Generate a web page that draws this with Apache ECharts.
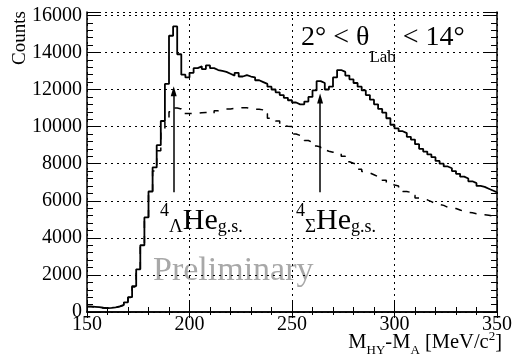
<!DOCTYPE html>
<html>
<head>
<meta charset="utf-8">
<script src="https://cdn.jsdelivr.net/npm/echarts@6/dist/echarts.min.js"></script>
<style>html,body{margin:0;padding:0;background:#fff;}#c{width:515px;height:356px;}</style>
</head>
<body>
<div id="c"></div>
<script>
// ---- data ----
const binStart = 150;
const binWidth = 2;
const solidCounts = [
  300,280,260,230,210,220,250,300,380,520,
  800,1400,2300,3600,5100,6500,7800,9000,10300,12300,
  14900,15400,13900,12800,12650,12900,13150,13250,13100,13300,
  13150,13050,13000,12950,12850,12750,12900,12700,12780,12700,
  12650,12500,12400,12300,12150,12000,11850,11700,11550,11420,
  11300,11200,11200,11350,11600,11950,12450,12350,12000,12150,
  12650,13050,12950,12750,12550,12350,12150,11950,11700,11450,
  11200,10950,10750,10450,10100,9900,9750,9650,9450,9300,
  9050,8800,8650,8500,8350,8150,8000,7850,7750,7600,
  7450,7300,7200,7050,6950,6800,6750,6650,6550,6450
];
const dashedCounts = [
  280,260,240,220,200,210,240,290,370,500,
  780,1350,2200,3500,4900,6300,7600,8700,9700,10300,
  10800,11000,10950,10700,10700,10700,10720,10750,10760,10760,
  10700,10850,10930,10950,10950,10980,11000,11020,11020,10950,
  10940,10935,10900,10700,10450,10430,10300,10050,10020,10000,
  9600,9520,9450,9250,9150,8950,8900,8750,8670,8620,
  8580,8550,8400,8100,8020,7950,7700,7580,7500,7400,
  7300,7280,7100,6950,6850,6800,6650,6500,6450,6300,
  6150,6080,6050,5950,5850,5800,5750,5650,5620,5580,
  5500,5420,5380,5350,5300,5280,5250,5220,5180,5130
];
const xTicks = [150, 200, 250, 300, 350];
const yTicks = [0, 2000, 4000, 6000, 8000, 10000, 12000, 14000, 16000];
const arrowX = [192.3, 263.7];
const arrowFrom = [6460, 6460];
const arrowTo = [11900, 11510];

// ---- helpers ----
function toSteps(vals) {
  const pts = vals.map((v, i) => [binStart + i * binWidth, v]);
  pts.push([binStart + vals.length * binWidth, vals[vals.length - 1]]);
  return pts;
}
const FONT = 'Liberation Serif';
const cv = document.createElement('canvas').getContext('2d');
function measure(t, s) { cv.font = s + 'px "' + FONT + '"'; return cv.measureText(t).width; }
function run(segs, x, align) {
  const total = segs.reduce((a, s) => a + measure(s[0], s[1]), 0);
  let cx = align === 'right' ? x - total : x;
  return segs.map(s => {
    const el = {
      type: 'text', x: cx, y: s[2] - 0.34 * s[1], silent: true,
      style: { text: s[0], fontSize: s[1], fontFamily: FONT, fill: s[3] || '#000',
               align: 'left', verticalAlign: 'middle' }
    };
    cx += measure(s[0], s[1]);
    return el;
  });
}

const chart = echarts.init(document.getElementById('c'), null, { renderer: 'canvas' });
const axisLineStyle = { show: true, lineStyle: { color: '#000', width: 1.5 } };
const gridStyle = { show: true, lineStyle: { color: '#000', width: 1, type: [2, 4] } };
const labelStyle = { color: '#000', fontSize: 20, fontFamily: FONT, formatter: v => String(v) };

const graphics = [].concat(
  run([['2° < θ', 28, 47], ['Lab', 17, 63], [' < 14°', 28, 47]], 301),
  run([['4', 18, 217], ['Λ', 19, 233], ['He', 30, 231], ['g.s.', 18, 233]], 160),
  run([['4', 18, 217], ['Σ', 19, 233], ['He', 30, 231], ['g.s.', 18, 233]], 296),
  run([['Preliminary', 34, 283, '#a8a8a8']], 153),
  run([['M', 20.5, 350], ['HY', 13, 355], ['-M', 20.5, 350], ['A', 13, 355], [' [MeV/c', 20.5, 350], ['2', 13, 341], [']', 20.5, 350]], 502, 'right'),
  [{
    type: 'text', x: 20, y: 38, rotation: Math.PI / 2, silent: true,
    style: { text: 'Counts', fontSize: 19, fontFamily: FONT, fill: '#000', align: 'center', verticalAlign: 'middle' }
  }]
);

const option = {
  animation: false,
  backgroundColor: '#fff',
  textStyle: { fontFamily: FONT },
  grid: { left: 87, right: 13, top: 12, bottom: 44 },
  xAxis: [
    {
      type: 'value', position: 'bottom', min: xTicks[0], max: xTicks[xTicks.length - 1], interval: 50,
      axisLine: axisLineStyle,
      axisTick: { show: true, inside: true, length: 10, lineStyle: { color: '#000', width: 1 } },
      minorTick: { show: true, splitNumber: 5, length: 5, lineStyle: { color: '#000', width: 1 } },
      splitLine: gridStyle,
      axisLabel: Object.assign({ margin: 3 }, labelStyle)
    },
    {
      type: 'value', position: 'top', min: xTicks[0], max: xTicks[xTicks.length - 1], interval: 50,
      axisLine: axisLineStyle,
      axisTick: { show: true, inside: true, length: 6, lineStyle: { color: '#000', width: 1 } },
      minorTick: { show: true, splitNumber: 5, length: 3, lineStyle: { color: '#000', width: 1 } },
      splitLine: { show: false },
      axisLabel: { show: false }
    }
  ],
  yAxis: [
    {
      type: 'value', position: 'left', min: yTicks[0], max: 16180, interval: 2000,
      axisLine: axisLineStyle,
      axisTick: { show: true, inside: true, length: 12, lineStyle: { color: '#000', width: 1 } },
      minorTick: { show: true, splitNumber: 5, length: 6, lineStyle: { color: '#000', width: 1 } },
      splitLine: gridStyle,
      axisLabel: Object.assign({ margin: 5, showMaxLabel: false }, labelStyle)
    },
    {
      type: 'value', position: 'right', min: yTicks[0], max: 16180, interval: 2000,
      axisLine: axisLineStyle,
      axisTick: { show: true, inside: true, length: 12, lineStyle: { color: '#000', width: 1 } },
      minorTick: { show: true, splitNumber: 5, length: 6, lineStyle: { color: '#000', width: 1 } },
      splitLine: { show: false },
      axisLabel: { show: false }
    }
  ],
  series: [
    {
      type: 'line', step: 'end', showSymbol: false, symbol: 'none',
      data: toSteps(dashedCounts),
      lineStyle: { color: '#000', width: 1.5, type: [7, 8] },
      z: 2
    },
    {
      type: 'line', step: 'end', showSymbol: false, symbol: 'none',
      data: toSteps(solidCounts),
      lineStyle: { color: '#000', width: 1.8 },
      z: 3,
      markLine: {
        silent: true, symbol: ['none', 'triangle'], symbolSize: [6, 10],
        label: { show: false },
        lineStyle: { color: '#000', width: 1.5, type: 'solid' },
        data: arrowX.map((x, i) => [{ coord: [x, arrowFrom[i]] }, { coord: [x, arrowTo[i]] }])
      }
    }
  ],
  graphic: graphics
};
chart.setOption(option);
</script>
</body>
</html>
